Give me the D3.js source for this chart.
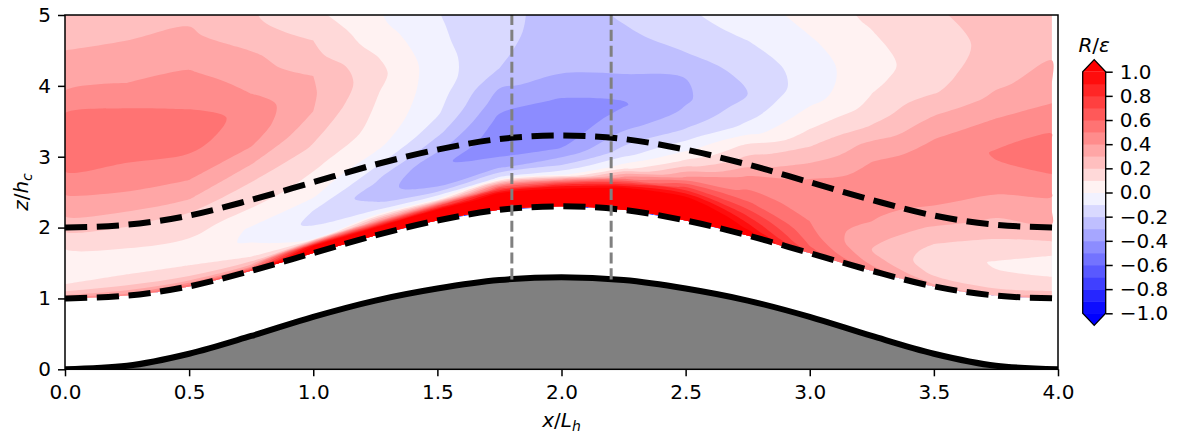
<!DOCTYPE html>
<html>
<head>
<meta charset="utf-8">
<script src="https://cdn.jsdelivr.net/npm/d3@7"></script>
<style>
  body { margin: 0; background: #fff; }
  text { font-family: "DejaVu Sans", sans-serif; }
</style>
</head>
<body>
<svg id="chart" width="1181" height="437"></svg>
<script>
// hill and the two dashed reference lines (z/h_c against x/L_h)
const hillX = [0, 0.25, 0.5, 0.75, 1, 1.25, 1.5, 1.75, 2, 2.25, 2.5, 2.75, 3, 3.25, 3.5, 3.75, 4];
const hillZ = [0, 0.05, 0.22, 0.47, 0.74, 0.97, 1.14, 1.26, 1.3, 1.26, 1.14, 0.97, 0.74, 0.47, 0.22, 0.05, 0];
const lowerDashZ = [1.0, 1.04, 1.17, 1.39, 1.64, 1.89, 2.1, 2.25, 2.3, 2.25, 2.1, 1.89, 1.64, 1.39, 1.17, 1.04, 1.0];
const upperDashZ = [2.0, 2.04, 2.17, 2.39, 2.64, 2.89, 3.1, 3.25, 3.3, 3.25, 3.1, 2.89, 2.64, 2.39, 2.17, 2.04, 2.0];
const probeX = [1.8, 2.2];

// R/eps, one column per fieldX, rows at height s above the lower dashed line
const fieldX = [0, 0.25, 0.5, 0.75, 1, 1.25, 1.5, 1.75, 2, 2.25, 2.5, 2.75, 3, 3.25, 3.5, 3.75, 3.975];
const fieldS = [0, 0.05, 0.1, 0.2, 0.3, 0.45, 0.6, 0.8, 1.0, 1.25, 1.5, 1.75, 2.0, 2.25, 2.5, 2.75, 3.0, 3.5, 4.0];
const fieldCols = [
  [0.42, 0.30, 0.20, 0.10, 0.07, 0.05, 0.07, 0.13, 0.23, 0.34, 0.41, 0.49, 0.55, 0.58, 0.54, 0.45, 0.38, 0.30, 0.25],
  [0.45, 0.36, 0.25, 0.14, 0.10, 0.06, 0.08, 0.14, 0.21, 0.33, 0.41, 0.47, 0.53, 0.57, 0.54, 0.47, 0.40, 0.31, 0.26],
  [0.60, 0.40, 0.25, 0.14, 0.10, 0.07, 0.08, 0.13, 0.18, 0.31, 0.40, 0.47, 0.53, 0.56, 0.50, 0.46, 0.41, 0.32, 0.26],
  [0.80, 0.45, 0.25, 0.10, 0.04, -0.02, -0.01, 0.07, 0.14, 0.20, 0.30, 0.40, 0.45, 0.46, 0.40, 0.36, 0.32, 0.22, 0.20],
  [1.30, 1.20, 1.00, 0.00, -0.07, -0.12, -0.10, 0.01, 0.07, 0.12, 0.19, 0.24, 0.30, 0.31, 0.30, 0.23, 0.20, 0.10, 0.08],
  [1.40, 1.30, 1.05, 0.35, -0.05, -0.19, -0.25, -0.18, -0.08, 0.03, 0.07, 0.09, 0.11, 0.14, 0.11, 0.06, 0.02, 0.00, -0.02],
  [1.40, 1.35, 1.30, 0.70, 0.00, -0.28, -0.38, -0.39, -0.28, -0.17, -0.09, -0.06, -0.05, -0.06, -0.08, -0.09, -0.10, -0.12, -0.13],
  [1.40, 1.38, 1.33, 1.15, 0.70, -0.08, -0.31, -0.43, -0.47, -0.43, -0.36, -0.29, -0.20, -0.18, -0.17, -0.17, -0.17, -0.17, -0.17],
  [1.40, 1.38, 1.33, 1.15, 0.85, -0.03, -0.22, -0.39, -0.46, -0.47, -0.41, -0.32, -0.28, -0.27, -0.25, -0.24, -0.24, -0.24, -0.24],
  [1.45, 1.42, 1.38, 1.25, 1.05, 0.45, 0.05, -0.15, -0.25, -0.36, -0.41, -0.34, -0.28, -0.24, -0.21, -0.19, -0.18, -0.17, -0.17],
  [1.50, 1.45, 1.40, 1.25, 1.08, 0.75, 0.42, 0.15, -0.02, -0.18, -0.28, -0.32, -0.30, -0.22, -0.18, -0.13, -0.11, -0.10, -0.10],
  [1.10, 1.05, 0.97, 0.87, 0.77, 0.62, 0.52, 0.43, 0.27, 0.13, -0.06, -0.15, -0.20, -0.19, -0.14, -0.10, -0.05, -0.02, -0.01],
  [0.65, 0.63, 0.60, 0.56, 0.53, 0.50, 0.48, 0.46, 0.42, 0.31, 0.20, 0.10, 0.02, -0.05, -0.07, -0.05, -0.01, 0.06, 0.07],
  [0.45, 0.42, 0.38, 0.33, 0.30, 0.33, 0.38, 0.42, 0.45, 0.46, 0.41, 0.34, 0.22, 0.14, 0.10, 0.07, 0.06, 0.11, 0.15],
  [0.33, 0.28, 0.23, 0.17, 0.15, 0.16, 0.20, 0.28, 0.36, 0.43, 0.46, 0.46, 0.42, 0.35, 0.27, 0.19, 0.16, 0.17, 0.20],
  [0.30, 0.25, 0.20, 0.15, 0.11, 0.09, 0.13, 0.20, 0.27, 0.35, 0.42, 0.48, 0.51, 0.47, 0.40, 0.33, 0.28, 0.22, 0.24],
  [0.35, 0.27, 0.20, 0.14, 0.10, 0.06, 0.10, 0.20, 0.29, 0.35, 0.42, 0.50, 0.55, 0.52, 0.45, 0.40, 0.35, 0.28, 0.25]
];

const levels = [-1.0, -0.9, -0.8, -0.7, -0.6, -0.5, -0.4, -0.3, -0.2, -0.1, 0.0,
                0.1, 0.2, 0.3, 0.4, 0.5, 0.6, 0.7, 0.8, 0.9, 1.0];
const cbTicks = [-1.0, -0.8, -0.6, -0.4, -0.2, 0.0, 0.2, 0.4, 0.6, 0.8, 1.0];
const xTicks = [0, 0.5, 1, 1.5, 2, 2.5, 3, 3.5, 4];
const zTicks = [0, 1, 2, 3, 4, 5];

const svg = d3.select("#chart");
const xS = d3.scaleLinear().domain([0, 4]).range([65, 1058]);
const zS = d3.scaleLinear().domain([0, 5]).range([369.3, 15]);

// bwr colormap, each band takes the colour of its middle value
const bwr = d3.scaleLinear().domain([-1, 0, 1]).range(["#0000ff", "#ffffff", "#ff0000"]).clamp(true);
const bandColor = t => bwr(t + 0.05);

svg.append("clipPath").attr("id", "plotArea")
  .append("rect").attr("x", 65).attr("y", 15).attr("width", 993).attr("height", 354.3);
const plot = svg.append("g").attr("clip-path", "url(#plotArea)");

// filled contours, grid index -> (x, z) following the terrain
const nx = fieldX.length, ny = fieldS.length;
const grid = [];
for (let j = 0; j < ny; j++) for (let i = 0; i < nx; i++) grid.push(fieldCols[i][j]);
const bands = d3.contours().size([nx, ny]).thresholds(levels)(grid);

const colAt = d3.scaleLinear().domain(d3.range(nx)).range(fieldX);
const rowAt = d3.scaleLinear().domain(d3.range(ny)).range(fieldS);
const baseAt = d3.scaleLinear().domain(hillX).range(lowerDashZ);
function project([gx, gy]) {
  const xv = colAt(Math.max(0, Math.min(nx - 1, gx - 0.5)));
  const sv = rowAt(Math.max(0, Math.min(ny - 1, gy - 0.5)));
  return [xS(xv), zS(baseAt(xv) + sv)];
}
const ringLine = d3.line().curve(d3.curveCatmullRomClosed.alpha(0.5));
function bandPath(mp, i) {
  return mp.coordinates.map(poly => poly.map(ring => {
    const pts = ring.slice(0, -1).map(project);
    if (i === 0 || pts.length < 4) return "M" + pts.join("L") + "Z";
    return ringLine(pts) + "Z";
  }).join("")).join("");
}

plot.append("g").selectAll("path")
  .data(bands)
  .join("path")
  .attr("d", bandPath)
  .attr("fill", d => bandColor(d.value))
  .attr("fill-rule", "evenodd");

// hill
const hillArea = d3.area()
  .x((d, i) => xS(hillX[i]))
  .y0(zS(0))
  .y1(d => zS(d))
  .curve(d3.curveMonotoneX);
const profile = d3.line()
  .x((d, i) => xS(hillX[i]))
  .y(d => zS(d))
  .curve(d3.curveMonotoneX);

plot.append("path").datum(hillZ).attr("d", hillArea).attr("fill", "#808080");
plot.append("path").datum(hillZ).attr("d", profile)
  .attr("fill", "none").attr("stroke", "#000").attr("stroke-width", 6);

plot.selectAll(".dash")
  .data([lowerDashZ, upperDashZ])
  .join("path")
  .attr("class", "dash")
  .attr("d", profile)
  .attr("fill", "none")
  .attr("stroke", "#000")
  .attr("stroke-width", 6)
  .attr("stroke-dasharray", "22.2 9.6");

const hillAt = d3.scaleLinear().domain(hillX).range(hillZ);
plot.selectAll(".probe")
  .data(probeX)
  .join("line")
  .attr("class", "probe")
  .attr("x1", d => xS(d)).attr("x2", d => xS(d))
  .attr("y1", d => zS(hillAt(d))).attr("y2", zS(5))
  .attr("stroke", "#808080")
  .attr("stroke-width", 3)
  .attr("stroke-dasharray", "11.1 4.8");

// frame and axes
svg.append("rect")
  .attr("x", 65).attr("y", 15).attr("width", 993).attr("height", 354.3)
  .attr("fill", "none").attr("stroke", "#000").attr("stroke-width", 1.5);

function styleAxis(g) {
  g.select(".domain").remove();
  g.selectAll(".tick line").attr("stroke-width", 1.5);
  g.attr("font-size", 20).attr("font-family", "DejaVu Sans");
  g.selectAll(".tick text").attr("fill", "#000");
}

svg.append("g")
  .attr("transform", "translate(0,369.3)")
  .call(d3.axisBottom(xS).tickValues(xTicks).tickFormat(d3.format(".1f"))
    .tickSize(7).tickSizeOuter(0).tickPadding(9))
  .call(styleAxis);

svg.append("g")
  .attr("transform", "translate(65,0)")
  .call(d3.axisLeft(zS).tickValues(zTicks).tickFormat(d3.format("d"))
    .tickSize(7).tickSizeOuter(0).tickPadding(7))
  .call(styleAxis);

svg.append("text")
  .attr("transform", "translate(28,192) rotate(-90)")
  .attr("text-anchor", "middle")
  .attr("font-size", 20)
  .call(t => {
    t.append("tspan").attr("font-style", "italic").text("z");
    t.append("tspan").text("/");
    t.append("tspan").attr("font-style", "italic").text("h");
    t.append("tspan").attr("font-style", "italic").attr("font-size", 14).attr("dy", 4).text("c");
  });

svg.append("text")
  .attr("transform", "translate(561.5,427)")
  .attr("text-anchor", "middle")
  .attr("font-size", 20)
  .call(t => {
    t.append("tspan").attr("font-style", "italic").text("x");
    t.append("tspan").text("/");
    t.append("tspan").attr("font-style", "italic").text("L");
    t.append("tspan").attr("font-style", "italic").attr("font-size", 14).attr("dy", 4).text("h");
  });

// colorbar with extension triangles
const cbX0 = 1082.7, cbX1 = 1105.7, cbXm = (cbX0 + cbX1) / 2;
const cbS = d3.scaleLinear().domain([-1, 1]).range([313.3, 71.7]);
const tri = 12.1;
const cb = svg.append("g");

cb.selectAll("rect")
  .data(levels.slice(0, -1))
  .join("rect")
  .attr("x", cbX0)
  .attr("width", cbX1 - cbX0)
  .attr("y", (d, i) => cbS(levels[i + 1]))
  .attr("height", (d, i) => cbS(d) - cbS(levels[i + 1]) + 0.5)
  .attr("fill", d => bandColor(d));

cb.append("path")
  .attr("d", `M${cbX0},${cbS(1)}L${cbXm},${cbS(1) - tri}L${cbX1},${cbS(1)}Z`)
  .attr("fill", bwr(1));
cb.append("path")
  .attr("d", `M${cbX0},${cbS(-1)}L${cbXm},${cbS(-1) + tri}L${cbX1},${cbS(-1)}Z`)
  .attr("fill", bwr(-1));
cb.append("path")
  .attr("d", `M${cbXm},${cbS(-1) + tri}L${cbX0},${cbS(-1)}L${cbX0},${cbS(1)}L${cbXm},${cbS(1) - tri}` +
             `L${cbX1},${cbS(1)}L${cbX1},${cbS(-1)}Z`)
  .attr("fill", "none").attr("stroke", "#000").attr("stroke-width", 1.3);

svg.append("g")
  .attr("transform", `translate(${cbX1},0)`)
  .call(d3.axisRight(cbS).tickValues(cbTicks).tickFormat(d3.format(".1f"))
    .tickSize(7).tickSizeOuter(0).tickPadding(7))
  .call(styleAxis);

svg.append("text")
  .attr("x", cbXm).attr("y", 51.5)
  .attr("text-anchor", "middle")
  .attr("font-size", 20)
  .call(t => {
    t.append("tspan").attr("font-style", "italic").text("R");
    t.append("tspan").text("/");
    t.append("tspan").attr("font-style", "italic").text("ε");
  });
</script>
</body>
</html>
